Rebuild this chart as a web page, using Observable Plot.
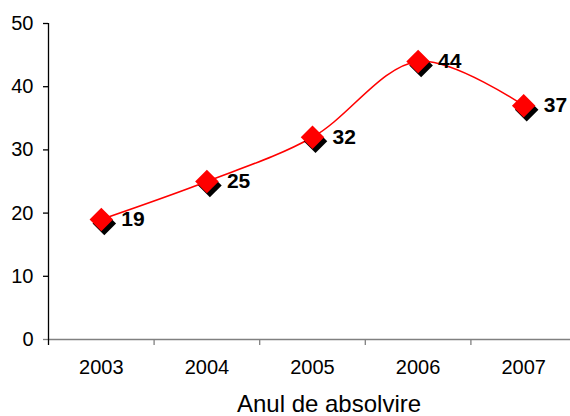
<!DOCTYPE html>
<html>
<head>
<meta charset="utf-8">
<script src="https://cdn.jsdelivr.net/npm/d3@7"></script>
<script src="https://cdn.jsdelivr.net/npm/@observablehq/plot@0.6"></script>
<style>
  html, body { margin: 0; padding: 0; background: #fff; }
  #title { width: 570px; box-sizing: border-box; padding-left: 88px; text-align: center;
           font-family: "Liberation Sans", Arial, sans-serif; font-size: 24px; color: #000; line-height: normal; }
</style>
</head>
<body>
<div id="chart"></div>
<div id="title">Anul de absolvire</div>
<script>
const years = [2003, 2004, 2005, 2006, 2007];
const values = [19, 25, 32, 44, 37];
const yTicks = [0, 10, 20, 30, 40, 50];
const xTitle = "Anul de absolvire";

const data = years.map((year, i) => ({year, value: values[i]}));
const boundaries = [...years.map(y => y - 0.5), years[years.length - 1] + 0.5];
const x0 = boundaries[0], x1 = boundaries[boundaries.length - 1];

const chart = Plot.plot({
  width: 570,
  height: 390,
  marginLeft: 48,
  marginRight: 0,
  marginTop: 23,
  marginBottom: 51,
  style: {fontFamily: "'Liberation Sans', Arial, sans-serif", fontSize: "20px", background: "#fff", color: "#000", overflow: "visible"},
  x: {domain: [x0, x1], range: [48, 576]},
  y: {domain: [0, 50], range: [339, 23]},
  marks: [
    Plot.ruleY([0], {x1: x0, x2: x1, stroke: "#808080", strokeWidth: 1.3}),
    Plot.ruleX([x0], {y1: 0, y2: 50, stroke: "#000", strokeWidth: 1.3}),
    Plot.axisY({ticks: yTicks.filter(t => t !== 0), tickSize: 5, tickPadding: 10, stroke: "#000", strokeWidth: 1.3, fontSize: 20, tickFormat: d => String(d), label: null}),
    Plot.axisY({ticks: [0], tickSize: 5, tickPadding: 10, stroke: "#808080", strokeWidth: 1.3, fontSize: 20, tickFormat: d => String(d), label: null}),
    Plot.axisX({ticks: boundaries.slice(1), tickSize: 6, stroke: "#808080", strokeWidth: 1.3, tickFormat: () => "", label: null}),
    Plot.axisX({ticks: [x0], tickSize: 6, stroke: "#000", strokeWidth: 1.3, tickFormat: () => "", label: null}),
    Plot.axisX({ticks: years, tickSize: 0, tickPadding: 20, fontSize: 20, tickFormat: d => String(d), label: null}),
    Plot.line(data, {x: "year", y: "value", curve: "catmull-rom", stroke: "#ff0000", strokeWidth: 1.6}),
    Plot.dot(data, {x: "year", y: "value", symbol: "diamond2", r: 10.6, fill: "#000", stroke: "none", dx: 3, dy: 4}),
    Plot.dot(data, {x: "year", y: "value", symbol: "diamond2", r: 10.6, fill: "#ff0000", stroke: "none"}),
    Plot.text(data, {x: "year", y: "value", text: d => String(d.value), dx: 20, textAnchor: "start", fontWeight: "bold", fontSize: 21, fill: "#000"})
  ]
});
document.getElementById("chart").appendChild(chart);
document.getElementById("title").textContent = xTitle;
</script>
</body>
</html>
